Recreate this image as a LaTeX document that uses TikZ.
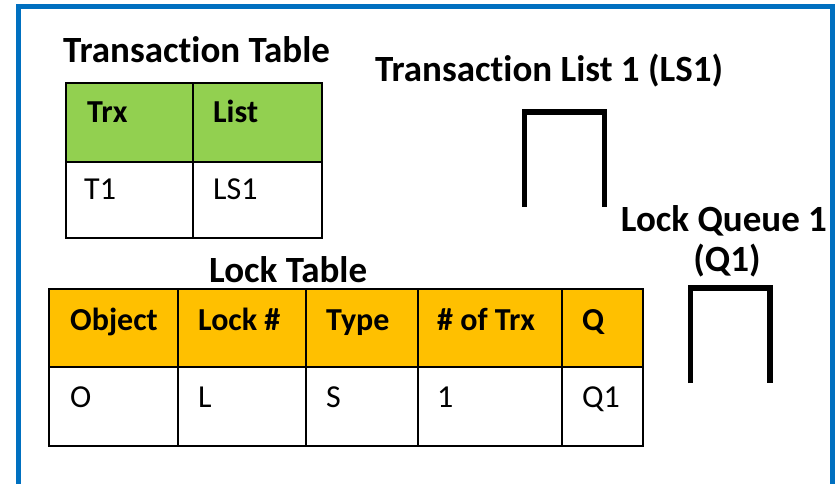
\documentclass[tikz,border=0pt]{standalone}
\usepackage{fontspec}
\setmainfont[Ligatures=NoCommon]{Carlito}
\begin{document}
\begin{tikzpicture}[x=1pt,y=-1pt,
  frame/.style={draw={rgb,255:red,0;green,112;blue,192},line width=5pt},
  grid/.style={draw=black,line width=2.6pt},
  bracket/.style={draw=black,line width=5.5pt},
  title/.style={font=\fontsize{37}{42}\selectfont\bfseries,inner sep=0pt},
  head/.style={anchor=base west,font=\fontsize{32}{36}\selectfont\bfseries,inner sep=0pt},
  cell/.style={anchor=base west,font=\fontsize{32}{36}\selectfont,inner sep=0pt}]
\definecolor{trxgreen}{RGB}{146,208,80}
\definecolor{lockorange}{RGB}{255,192,0}
\useasboundingbox (0,0) rectangle (839,484);
\fill[white] (0,0) rectangle (839,484);
% outer frame, open at the bottom
\draw[frame] (18,484) -- (18,6.5) -- (832,6.5) -- (832,484);

% transaction table
\node[title,anchor=base west] (ttitle) at (63,63) {Transaction Table};
\fill[trxgreen] (66,83) rectangle (322,162);
\draw[grid] (66,83) rectangle (322,238);
\draw[grid] (66,162) -- (322,162);
\draw[grid] (193,83) -- (193,238);
\node[head] (htrx) at (87,123) {Trx};
\node[head] (hlist) at (213,123) {List};
\node[cell] (ct1) at (84,200) {T1};
\node[cell] (cls1) at (213,200) {LS1};

% transaction list 1
\node[title,anchor=base west] (ltitle) at (375,82) {Transaction List 1 (LS1)};
\draw[bracket] (524.5,207) -- (524.5,112) -- (604.5,112) -- (604.5,207);

% lock queue 1
\node[title,anchor=base] (qtitle1) at (724,232) {Lock Queue 1};
\node[title,anchor=base] (qtitle2) at (727,271) {(Q1)};
\draw[bracket] (690.5,383) -- (690.5,288) -- (770,288) -- (770,383);

% lock table
\node[title,anchor=base west] (locktitle) at (209,283) {Lock Table};
\fill[lockorange] (49,289) rectangle (643,367);
\draw[grid] (49,289) rectangle (643,446);
\draw[grid] (49,367) -- (643,367);
\foreach \cx in {178,306,418,562} \draw[grid] (\cx,289) -- (\cx,446);
\node[head] (hobj) at (70,330) {Object};
\node[head] (hlock) at (198,330) {Lock \#};
\node[head] (htype) at (326,330) {Type};
\node[head] (hnum) at (437,330) {\# of Trx};
\node[head] (hq) at (582,330) {Q};
\node[cell] (co) at (70,407) {O};
\node[cell] (cl) at (198,407) {L};
\node[cell] (cs) at (326,407) {S};
\node[cell] (cn) at (437,407) {1};
\node[cell] (cq) at (582,407) {Q1};
\end{tikzpicture}
\end{document}
